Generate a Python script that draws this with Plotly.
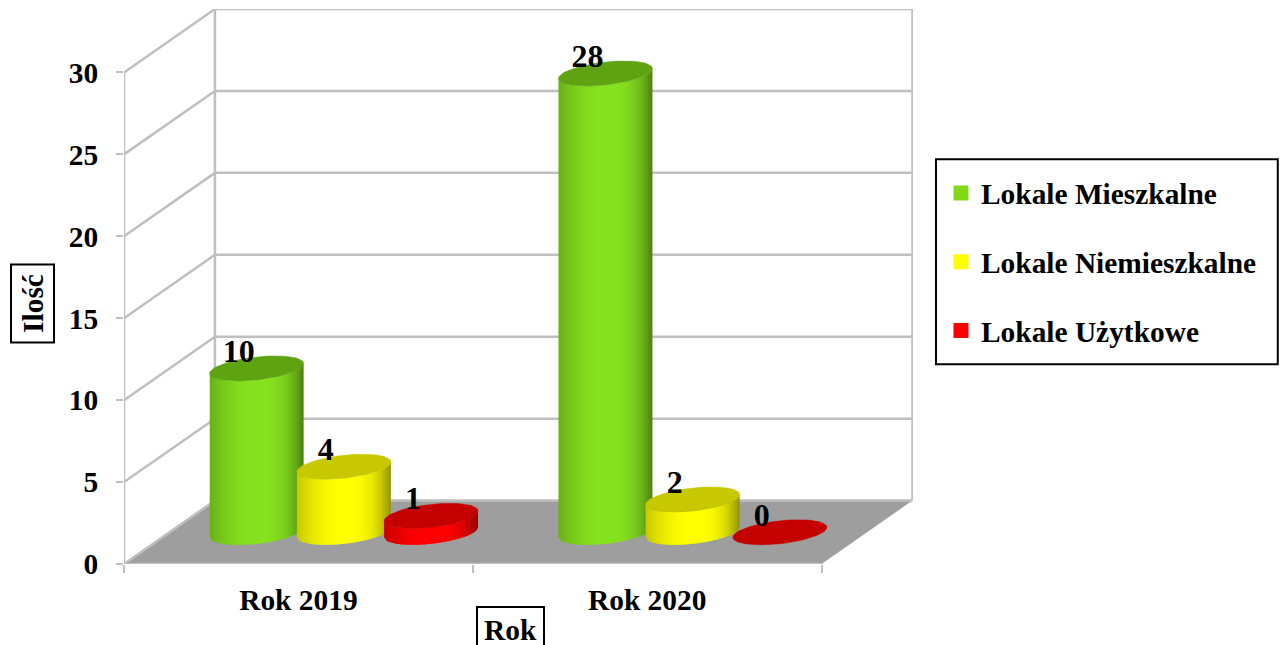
import math
import plotly.graph_objects as go

categories = ["Rok 2019", "Rok 2020"]
series_names = ["Lokale Mieszkalne", "Lokale Niemieszkalne", "Lokale Użytkowe"]
mieszkalne = [10, 28]
niemieszkalne = [4, 2]
uzytkowe = [1, 0]
series_values = [mieszkalne, niemieszkalne, uzytkowe]
y_ticks = [0, 5, 10, 15, 20, 25, 30]

BRIGHT = [(134, 226, 30), (255, 255, 0), (255, 0, 0)]
TOP = ["#5fa212", "#c8c800", "#c40000"]
LEGEND_COL = ["#84d81a", "#ffff00", "#ff0000"]
GRID = "#bfbfbf"
FLOOR = "#9e9e9e"
FONT = "Liberation Serif"

# plot geometry in pixels
PX_L, PX_R, PX_T, PX_B = 123.5, 913, 8.5, 564
PX_PER_CAT = 349.0
PX_PER_UNIT = 16.4
DEPTH_X = 91 / PX_PER_CAT
DEPTH_Y = 63.5 / PX_PER_UNIT


def px(v):
    return v / PX_PER_CAT


def py(v):
    return v / PX_PER_UNIT


def shade(rgb, u):
    f = 1 - 0.22 * u * u if u < 0 else 1 - 0.44 * u ** 3
    return "rgb(%d,%d,%d)" % tuple(round(c * f) for c in rgb)


def low(u):
    return py(5 * u - 11.5 * math.sqrt(max(0, 1 - u * u)))


fig = go.Figure()

# floor
fig.add_trace(go.Scatter(
    x=[0, 2, 2 + DEPTH_X, DEPTH_X, 0], y=[0, 0, DEPTH_Y, DEPTH_Y, 0],
    mode="lines", fill="toself", fillcolor=FLOOR, line=dict(width=0),
    hoverinfo="skip", showlegend=False, cliponaxis=False))

# walls
gx, gy = [], []
for v in y_ticks:
    gx += [0, DEPTH_X, 2 + DEPTH_X, None]
    gy += [v, v + DEPTH_Y, v + DEPTH_Y, None]
for x0 in (DEPTH_X, 2 + DEPTH_X):
    gx += [x0, x0, None]
    gy += [DEPTH_Y, 30 + DEPTH_Y, None]
gx += [0, 0, None, 0, 2]
gy += [0, 30, None, 0, 0]
fig.add_trace(go.Scatter(x=gx, y=gy, mode="lines", line=dict(color=GRID, width=2.5),
                         hoverinfo="skip", showlegend=False, cliponaxis=False))

N = 47
A = 47.0
for c, cat in enumerate(categories):
    for s, vals in enumerate(series_values):
        v = vals[c]
        cx = c + 0.5 + DEPTH_X / 2 + (s - 1) * 0.25
        base = DEPTH_Y / 2
        top = base + v
        if v > 0:
            for i in range(N):
                u0 = -1 + 2 * i / N
                u1 = min(1.0, -1 + 2 * (i + 1.6) / N)
                xs = [cx + px(A * u0), cx + px(A * u1), cx + px(A * u1), cx + px(A * u0), cx + px(A * u0)]
                ys = [base + low(u0), base + low(u1), top + low(u1), top + low(u0), base + low(u0)]
                col = shade(BRIGHT[s], -1 + 2 * (i + 0.5) / N)
                fig.add_trace(go.Scatter(x=xs, y=ys, mode="lines", fill="toself", fillcolor=col,
                                         line=dict(width=0), hoverinfo="skip",
                                         showlegend=False, cliponaxis=False))
        ts = [2 * math.pi * k / 72 for k in range(73)]
        ex = [cx + px(A * math.cos(t)) for t in ts]
        ey = [top + py(5 * math.cos(t) + 11.5 * math.sin(t)) for t in ts]
        fig.add_trace(go.Scatter(x=ex, y=ey, mode="lines", fill="toself", fillcolor=TOP[s],
                                 line=dict(color=TOP[s], width=0.5), hoverinfo="skip",
                                 showlegend=False, cliponaxis=False))

# data labels
for s, vals in enumerate(series_values):
    lx = [c + 0.5 + DEPTH_X / 2 + (s - 1) * 0.25 + px(-18) for c in range(len(categories))]
    ly = [DEPTH_Y / 2 + v + py(14.5) for v in vals]
    fig.add_trace(go.Scatter(x=lx, y=ly, mode="text", text=[str(v) for v in vals],
                             textposition="middle center",
                             textfont=dict(family=FONT, size=32, color="black", weight="bold"),
                             hoverinfo="skip", showlegend=False, cliponaxis=False))

# legend entries
for s, name in enumerate(series_names):
    fig.add_trace(go.Scatter(x=[None], y=[None], mode="markers", name=name, legendgroup=name,
                             marker=dict(symbol="square", size=15, color=LEGEND_COL[s])))

W = PX_R - PX_L
H = PX_B - PX_T


def paper_x(p):
    return (p - PX_L) / W


def paper_y(p):
    return (PX_B - p) / H


fig.update_layout(
    width=1280, height=645, autosize=False,
    margin=dict(l=PX_L, r=1280 - PX_R, t=PX_T, b=645 - PX_B, pad=0),
    paper_bgcolor="white", plot_bgcolor="white",
    font=dict(family=FONT, size=29, color="black", weight="bold"),
    xaxis=dict(range=[0, W / PX_PER_CAT], tickmode="array", tickvals=[0.5, 1.5], ticktext=categories,
               ticks="", showgrid=False, zeroline=False, showline=False, ticklabelstandoff=16,
               minor=dict(ticks="outside", tick0=0, dtick=1, ticklen=8, tickcolor=GRID, tickwidth=2, showgrid=False),
               tickfont=dict(family=FONT, size=29.4, color="black", weight="bold")),
    yaxis=dict(range=[0, H / PX_PER_UNIT], tickmode="array", tickvals=y_ticks,
               ticks="outside", ticklen=7, tickcolor=GRID, tickwidth=2, showgrid=False,
               zeroline=False, showline=False, ticklabelstandoff=12,
               tickfont=dict(family=FONT, size=29.4, color="black", weight="bold")),
    legend=dict(x=paper_x(941), y=paper_y(167), xanchor="left", yanchor="top",
                borderwidth=0, bgcolor="rgba(0,0,0,0)",
                tracegroupgap=27.5, itemclick=False, itemdoubleclick=False,
                font=dict(family=FONT, size=29.4, color="black", weight="bold")),
    shapes=[dict(type="rect", xref="paper", yref="paper",
                 x0=paper_x(936), x1=paper_x(1278), y0=paper_y(159), y1=paper_y(364),
                 line=dict(color="black", width=2), fillcolor="white", layer="below")],
    annotations=[
        dict(text="Ilość", textangle=-90, xref="paper", yref="paper", x=paper_x(31.7), y=paper_y(303),
             xanchor="center", yanchor="middle", width=68, height=33,
             showarrow=False, bordercolor="black", borderwidth=2, borderpad=4, bgcolor="white",
             font=dict(family=FONT, size=29.4, color="black", weight="bold")),
        dict(text="Rok", xref="paper", yref="paper", x=paper_x(510), y=paper_y(630),
             xanchor="center", yanchor="middle",
             showarrow=False, bordercolor="black", borderwidth=2, borderpad=6, bgcolor="white",
             font=dict(family=FONT, size=29.4, color="black", weight="bold")),
    ],
)
fig.write_html("out.html", config=dict(displayModeBar=False),
               post_script="document.body.style.margin='0';document.body.style.overflow='hidden';")
